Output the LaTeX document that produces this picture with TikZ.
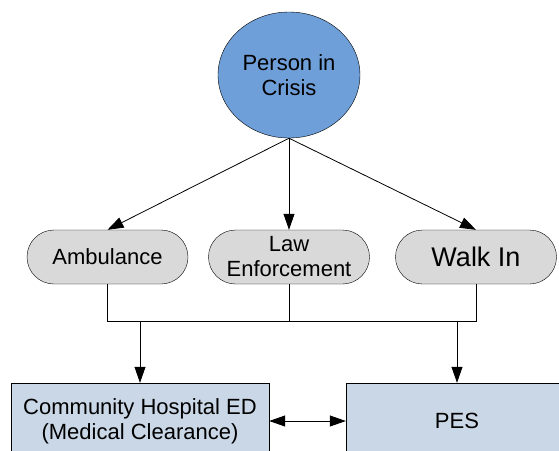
\documentclass[tikz,border=0pt]{standalone}
\usepackage{fontspec}
\setmainfont{Liberation Sans}
\usetikzlibrary{arrows.meta,shapes.geometric,shapes.misc}
\definecolor{Pc}{HTML}{6F9FD8}
\definecolor{Gc}{HTML}{D9D9D9}
\definecolor{Bc}{HTML}{C9D7E6}
\tikzset{
  person/.style={ellipse, draw=black, fill=Pc, minimum width=142pt, minimum height=126pt, inner sep=0pt, align=center},
  route/.style={rounded rectangle, draw=black, fill=Gc, minimum width=161pt, minimum height=54pt, inner sep=0pt, align=center},
  site/.style={rectangle, draw=black, fill=Bc, minimum height=76pt, inner sep=0pt, align=center},
  link/.style={-{Triangle[length=16pt,width=11pt]}, line width=0.8pt},
  dlink/.style={{Triangle[length=16pt,width=11pt]}-{Triangle[length=16pt,width=11pt]}, line width=0.8pt},
  merge/.style={line width=0.8pt},
}

\begin{document}
\begin{tikzpicture}[x=1pt,y=-1pt,font=\fontsize{22}{25}\selectfont]
  \useasboundingbox (0,0) rectangle (559,450);
  \node[person] (crisis) at (289,75) {Person in\\Crisis};
  \node[route] (amb) at (107.5,257) {Ambulance};
  \node[route] (law) at (289,257) {Law\\Enforcement};
  \node[route, font=\fontsize{27}{30}\selectfont] (walk) at (476,257) {Walk In};
  \node[site, minimum width=258pt] (ed) at (140,421) {Community Hospital ED\\(Medical Clearance)};
  \node[site, minimum width=222pt] (pes) at (457,421) {PES};
  \coordinate (m1) at (140,321);
  \coordinate (m2) at (457,321);
  % from the person to each way in
  \foreach \t in {amb,law,walk} \draw[link] (crisis.south) -- (\t.north);
  % merge line
  \draw[merge] (amb.south) |- (walk.south |- m1) -- (walk.south);
  \draw[merge] (law.south) -- (law.south |- m1);
  \draw[link] (m1) -- (ed.north);
  \draw[link] (m2) -- (pes.north);
  \draw[dlink] (ed.east) -- (pes.west);
\end{tikzpicture}
\end{document}
